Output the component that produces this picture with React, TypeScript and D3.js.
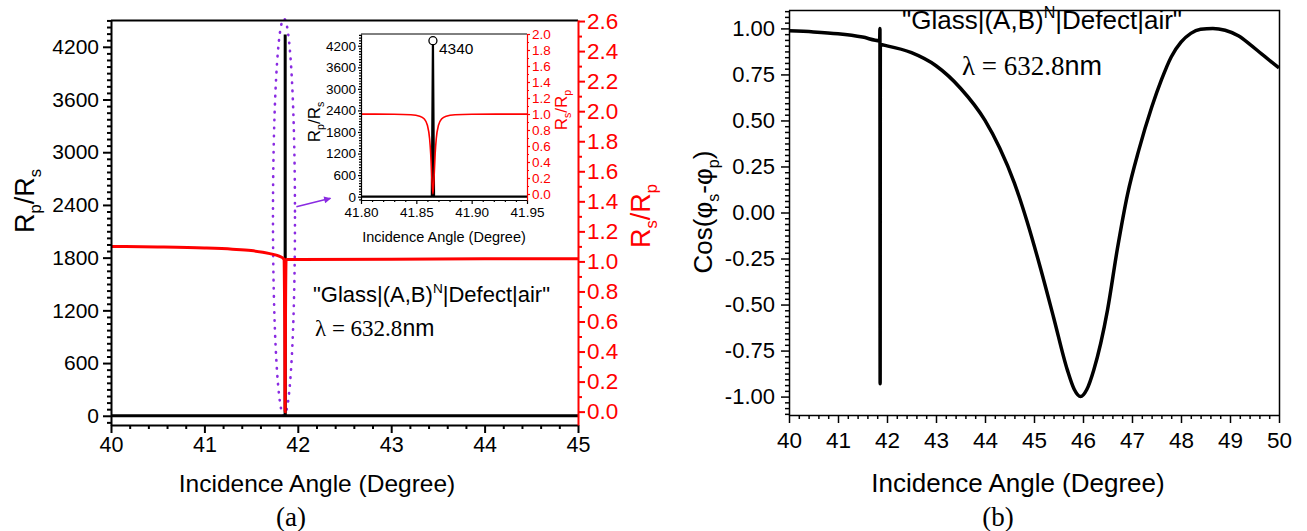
import { useEffect, useRef } from "react";
import * as d3 from "d3";

const SANS = "'Liberation Sans', Arial, sans-serif";
const SERIF = "'Liberation Serif', 'Times New Roman', serif";
const RED = "#ff0000";

// ---- panel (a): Rs/Rp (red, right axis) and Rp/Rs (black, left axis)
const angleA = [40, 40.5, 41, 41.3, 41.5, 41.7, 41.8, 41.85, 41.86, 41.864, 41.868, 41.875, 42, 43, 44, 45];
const rsRpA = [1.1, 1.096, 1.089, 1.081, 1.072, 1.052, 1.035, 1.016, 0.6, 0.0, 0.6, 1.012, 1.013, 1.015, 1.017, 1.018];
const spikeAngleA = [40, 41.864, 41.865, 41.866, 45];
const rpRsA = [0, 0, 4340, 0, 0];

// ---- inset: zoom around the resonance
const angleInset = [41.8, 41.83, 41.845, 41.853, 41.857, 41.86, 41.862, 41.863, 41.864, 41.865, 41.866, 41.867, 41.868, 41.87, 41.873, 41.877, 41.885, 41.9, 41.95];
const rsRpInset = [0.999, 0.997, 0.99, 0.973, 0.94, 0.86, 0.69, 0.5, 0.2, 0.0, 0.2, 0.5, 0.69, 0.86, 0.94, 0.973, 0.99, 0.997, 0.999];
const spikeAngleInset = [41.8, 41.864, 41.865, 41.866, 41.95];
const rpRsInset = [0, 0, 4340, 0, 0];
const peakValue = 4340;

// ---- panel (b): Cos(phi_s - phi_p)
const angleB = [40, 40.5, 41, 41.5, 41.85, 41.856, 41.86, 41.864, 42, 42.5, 43, 43.5, 44, 44.3, 44.6, 44.86, 45.13, 45.4, 45.68, 45.82, 45.95, 46.08, 46.22, 46.5, 46.7, 46.91, 47.14, 47.4, 47.6, 47.8, 48, 48.2, 48.4, 48.65, 48.9, 49.17, 49.4, 49.65, 50];
const cosB = [0.987, 0.981, 0.971, 0.953, 0.933, 1.0, -0.93, 0.912, 0.905, 0.868, 0.797, 0.675, 0.5, 0.35, 0.16, -0.05, -0.3, -0.57, -0.855, -0.96, -1.0, -0.96, -0.855, -0.53, -0.2, 0.1, 0.34, 0.57, 0.72, 0.845, 0.925, 0.973, 0.995, 1.0, 0.99, 0.96, 0.915, 0.86, 0.785];

// tick labels
const angleTicksA = [40, 41, 42, 43, 44, 45];
const rpRsTicks = [0, 600, 1200, 1800, 2400, 3000, 3600, 4200];
const rsRpTicks = [0, 0.2, 0.4, 0.6, 0.8, 1.0, 1.2, 1.4, 1.6, 1.8, 2.0, 2.2, 2.4, 2.6];
const insetAngleTicks = [41.8, 41.85, 41.9, 41.95];
const insetRsRpTicks = [0, 0.2, 0.4, 0.6, 0.8, 1.0, 1.2, 1.4, 1.6, 1.8, 2.0];
const angleTicksB = [40, 41, 42, 43, 44, 45, 46, 47, 48, 49, 50];
const cosTicks = [-1, -0.75, -0.5, -0.25, 0, 0.25, 0.5, 0.75, 1];

type Sel = d3.Selection<any, unknown, null, undefined>;

function drawAxis(parent: Sel, make: any, scale: any, at: [number, number], major: number[], minor: number[], o: any) {
    const color = o.color || "#000";
    const minorOnly = minor.filter((v) => !major.some((m) => Math.abs(m - v) < 1e-6));
    const gm = parent.append("g")
        .attr("transform", `translate(${at[0]},${at[1]})`)
        .call(make(scale).tickValues(minorOnly).tickSize(o.minorLen).tickSizeOuter(0).tickFormat(() => ""));
    gm.select(".domain").remove();
    gm.selectAll("line").attr("stroke", color).attr("stroke-width", o.width);

    const g = parent.append("g")
        .attr("transform", `translate(${at[0]},${at[1]})`)
        .call(make(scale).tickValues(major).tickSize(o.majorLen).tickSizeOuter(0).tickPadding(o.pad).tickFormat(o.fmt));
    g.select(".domain").attr("stroke", color).attr("stroke-width", o.width);
    g.selectAll("line").attr("stroke", color).attr("stroke-width", o.width);
    g.selectAll("text")
        .attr("fill", color)
        .attr("font-size", o.fontSize)
        .attr("font-family", SANS);
}

// text made of pieces; "sub"/"sup" pieces are shifted and shrunk
function richText(parent: Sel, transform: string, parts: [string, string?][], size: number, color: string, anchor = "middle") {
    const t = parent.append("text")
        .attr("transform", transform)
        .attr("text-anchor", anchor)
        .attr("font-family", SANS)
        .attr("font-size", size)
        .attr("fill", color);
    let shift = 0;
    parts.forEach(([s, kind]) => {
        const ts = t.append("tspan").text(s);
        let target = 0;
        if (kind === "sub") {
            target = size * 0.25;
            ts.attr("font-size", size * 0.62);
        } else if (kind === "sup") {
            target = -size * 0.42;
            ts.attr("font-size", size * 0.62);
        }
        if (target !== shift) {
            ts.attr("dy", target - shift);
            shift = target;
        }
    });
    return t;
}

function lambdaText(parent: Sel, x: number, y: number, size: number) {
    const t = parent.append("text")
        .attr("x", x).attr("y", y)
        .attr("font-family", SERIF)
        .attr("font-size", size);
    t.append("tspan").text("\u03bb = 632.8");
    t.append("tspan").attr("font-family", SANS).text("nm");
}

function drawChart(svg: Sel) {
    // ---------------- panel (a)
    const xA = d3.scaleLinear().domain([40, 45]).range([111, 578]);
    const yAL = d3.scaleLinear().domain([-105, 4505]).range([425, 20]);
    const yAR = d3.scaleLinear().domain([-0.089, 2.607]).range([425, 20]);

    const a = svg.append("g");

    // purple dotted ellipse around the resonance + arrow to the inset
    a.append("ellipse")
        .attr("cx", xA(41.852))
        .attr("cy", (yAL(4520) + yAL(0)) / 2)
        .attr("rx", 11)
        .attr("ry", (yAL(0) - yAL(4520)) / 2)
        .attr("fill", "none")
        .attr("stroke", "#8a2be2")
        .attr("stroke-width", 2.6)
        .attr("stroke-linecap", "round")
        .attr("stroke-dasharray", "0.5 7.5");

    svg.append("defs").append("marker")
        .attr("id", "arrowhead")
        .attr("viewBox", "0 0 10 10")
        .attr("refX", 9).attr("refY", 5)
        .attr("markerWidth", 9).attr("markerHeight", 7)
        .attr("markerUnits", "userSpaceOnUse")
        .attr("orient", "auto")
        .append("path").attr("d", "M0,0L10,5L0,10z").attr("fill", "#8a2be2");
    a.append("line")
        .attr("x1", xA(41.985)).attr("y1", yAL(2380))
        .attr("x2", xA(42.35)).attr("y2", yAL(2475))
        .attr("stroke", "#8a2be2").attr("stroke-width", 1.6)
        .attr("marker-end", "url(#arrowhead)");

    const lineAL = d3.line<[number, number]>().x((d) => xA(d[0])).y((d) => yAL(d[1]));
    const lineAR = d3.line<[number, number]>().x((d) => xA(d[0])).y((d) => yAR(d[1])).curve(d3.curveMonotoneX);

    a.append("path")
        .datum(d3.zip(spikeAngleA, rpRsA) as [number, number][])
        .attr("d", lineAL)
        .attr("fill", "none").attr("stroke", "#000").attr("stroke-width", 3);
    a.append("path")
        .datum(d3.zip(angleA, rsRpA) as [number, number][])
        .attr("d", lineAR)
        .attr("fill", "none").attr("stroke", RED).attr("stroke-width", 3);

    // frame + axes
    a.append("line").attr("x1", 111).attr("x2", 578).attr("y1", 20.5).attr("y2", 20.5)
        .attr("stroke", "#000").attr("stroke-width", 2);
    drawAxis(a, d3.axisBottom, xA, [0, 425], angleTicksA, d3.range(40, 45.01, 0.2),
        { majorLen: 8, minorLen: 4, pad: 4, width: 2, fontSize: 21.5, fmt: (d: number) => String(d) });
    drawAxis(a, d3.axisLeft, yAL, [111, 0], rpRsTicks, d3.range(-75, 4505, 75),
        { majorLen: 8, minorLen: 4, pad: 4, width: 2, fontSize: 21, fmt: (d: number) => String(d) });
    drawAxis(a, d3.axisRight, yAR, [578, 0], rsRpTicks, d3.range(0.1, 2.6, 0.1),
        { majorLen: 7, minorLen: 4, pad: 2, width: 2, fontSize: 22.5, color: RED, fmt: (d: number) => d.toFixed(1) });

    richText(a, "translate(34,201) rotate(-90)", [["R"], ["p", "sub"], ["/R"], ["s", "sub"]], 27, "#000");
    richText(a, "translate(650,216) rotate(-90)", [["R"], ["s", "sub"], ["/R"], ["p", "sub"]], 27, RED);
    a.append("text").attr("x", 317).attr("y", 492).attr("text-anchor", "middle")
        .attr("font-family", SANS).attr("font-size", 24.5).text("Incidence Angle (Degree)");
    a.append("text").attr("x", 291).attr("y", 526).attr("text-anchor", "middle")
        .attr("font-family", SERIF).attr("font-size", 27).text("(a)");

    richText(a, "translate(313,302)", [["\"Glass|(A,B)"], ["N", "sup"], ["|Defect|air\""]], 22, "#000", "start");
    lambdaText(a, 315, 336, 23);

    // ---------------- inset
    const xI = d3.scaleLinear().domain([41.8, 41.95]).range([361, 527]);
    const yIL = d3.scaleLinear().domain([-92, 4526]).range([200, 34]);
    const yIR = d3.scaleLinear().domain([-0.075, 2.0]).range([200, 34]);
    const ins = svg.append("g");
    ins.append("rect").attr("x", 361).attr("y", 34).attr("width", 166).attr("height", 166).attr("fill", "#fff");

    const lineIL = d3.line<[number, number]>().x((d) => xI(d[0])).y((d) => yIL(d[1]));
    const lineIR = d3.line<[number, number]>().x((d) => xI(d[0])).y((d) => yIR(d[1])).curve(d3.curveMonotoneX);
    ins.append("path")
        .datum(d3.zip(spikeAngleInset, rpRsInset) as [number, number][])
        .attr("d", lineIL)
        .attr("fill", "none").attr("stroke", "#000").attr("stroke-width", 2.2);
    ins.append("path")
        .datum(d3.zip(angleInset, rsRpInset) as [number, number][])
        .attr("d", lineIR)
        .attr("fill", "none").attr("stroke", RED).attr("stroke-width", 1.6);
    ins.append("circle")
        .attr("cx", xI(41.865)).attr("cy", yIL(peakValue)).attr("r", 4)
        .attr("fill", "#fff").attr("stroke", "#000").attr("stroke-width", 1.3);
    ins.append("text").attr("x", xI(41.865) + 6).attr("y", 54)
        .attr("font-family", SANS).attr("font-size", 15.5).text(String(peakValue));

    ins.append("line").attr("x1", 361).attr("x2", 527).attr("y1", 34).attr("y2", 34)
        .attr("stroke", "#000").attr("stroke-width", 1);
    drawAxis(ins, d3.axisBottom, xI, [0, 200], insetAngleTicks, d3.range(41.8, 41.951, 0.01),
        { majorLen: 4, minorLen: 2, pad: 3, width: 1.2, fontSize: 13.5, fmt: (d: number) => d.toFixed(2) });
    drawAxis(ins, d3.axisLeft, yIL, [361, 0], rpRsTicks, d3.range(-75, 4526, 75),
        { majorLen: 3, minorLen: 2, pad: 2, width: 1.2, fontSize: 13.5, fmt: (d: number) => String(d) });
    drawAxis(ins, d3.axisRight, yIR, [527, 0], insetRsRpTicks, d3.range(0.1, 2.0, 0.1),
        { majorLen: 3, minorLen: 2, pad: 2, width: 1.2, fontSize: 13.5, color: RED, fmt: (d: number) => d.toFixed(1) });
    richText(ins, "translate(320,122) rotate(-90)", [["R"], ["p", "sub"], ["/R"], ["s", "sub"]], 17, "#000");
    richText(ins, "translate(567,110) rotate(-90)", [["R"], ["s", "sub"], ["/R"], ["p", "sub"]], 17, RED);
    ins.append("text").attr("x", 444).attr("y", 242).attr("text-anchor", "middle")
        .attr("font-family", SANS).attr("font-size", 14.5).text("Incidence Angle (Degree)");

    // ---------------- panel (b)
    const xB = d3.scaleLinear().domain([40, 50]).range([789, 1279]);
    const yB = d3.scaleLinear().domain([-1.1, 1.1]).range([415, 10]);
    const b = svg.append("g");

    const lineB = d3.line<[number, number]>().x((d) => xB(d[0])).y((d) => yB(d[1])).curve(d3.curveMonotoneX);
    b.append("path")
        .datum(d3.zip(angleB, cosB) as [number, number][])
        .attr("d", lineB)
        .attr("fill", "none").attr("stroke", "#000").attr("stroke-width", 3.5);

    b.append("path").attr("d", "M789,10.5H1279.5V415")
        .attr("fill", "none").attr("stroke", "#000").attr("stroke-width", 1.5);
    drawAxis(b, d3.axisBottom, xB, [0, 415], angleTicksB, d3.range(40, 50.01, 0.2),
        { majorLen: 8, minorLen: 4, pad: 9, width: 1.5, fontSize: 22.5, fmt: (d: number) => String(d) });
    drawAxis(b, d3.axisLeft, yB, [789, 0], cosTicks, d3.range(-1.09375, 1.1, 0.03125),
        { majorLen: 8, minorLen: 4, pad: 6, width: 1.5, fontSize: 22, fmt: (d: number) => d.toFixed(2) });

    richText(b, "translate(712,212) rotate(-90)", [["Cos("], ["\u03c6"], ["s", "sub"], ["-"], ["\u03c6"], ["p", "sub"], [")"]], 26, "#000");
    b.append("text").attr("x", 1018).attr("y", 492).attr("text-anchor", "middle")
        .attr("font-family", SANS).attr("font-size", 26).text("Incidence Angle (Degree)");
    b.append("text").attr("x", 998).attr("y", 526).attr("text-anchor", "middle")
        .attr("font-family", SERIF).attr("font-size", 27).text("(b)");

    richText(b, "translate(902,29)", [["\"Glass|(A,B)"], ["N", "sup"], ["|Defect|air\""]], 26, "#000", "start");
    lambdaText(b, 962, 75, 27);
}

export default function App() {
    const ref = useRef<SVGSVGElement>(null);

    useEffect(() => {
        const svg = d3.select(ref.current) as unknown as Sel;
        svg.selectAll("*").remove();
        drawChart(svg);
    }, []);

    return (
        <svg
            ref={ref}
            width={1307}
            height={531}
            style={{ position: "absolute", left: 0, top: 0, background: "#fff" }}
        />
    );
}
